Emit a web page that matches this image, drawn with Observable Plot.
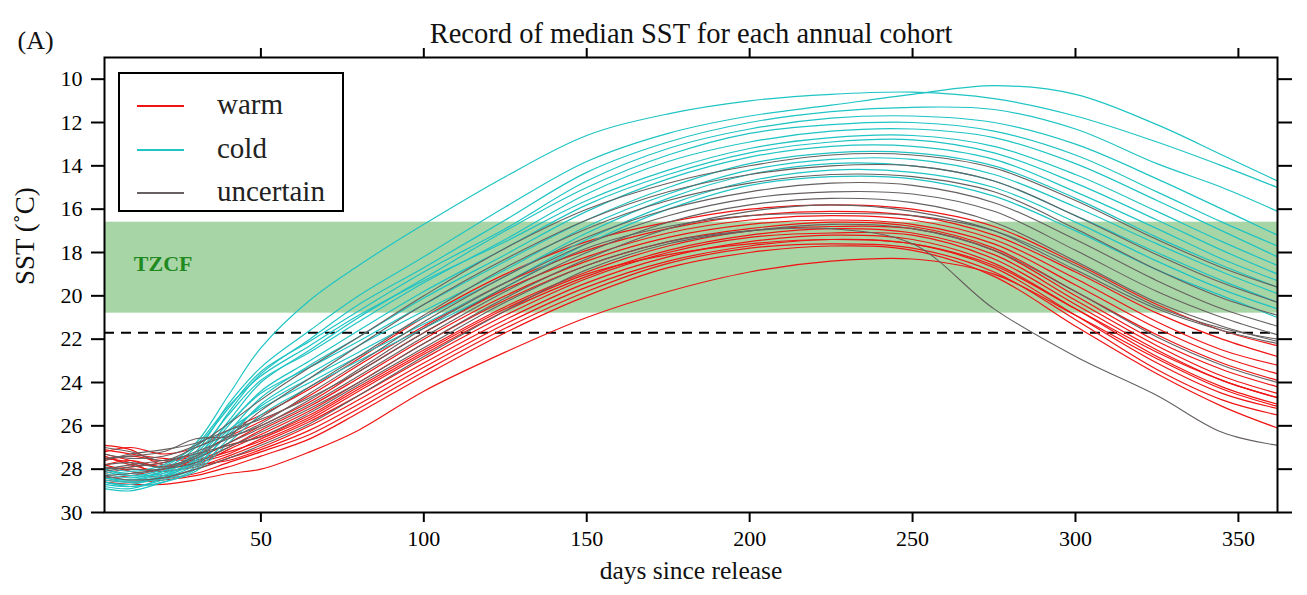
<!DOCTYPE html>
<html>
<head>
<meta charset="utf-8">
<script src="https://cdn.jsdelivr.net/npm/d3@7"></script>
<script src="https://cdn.jsdelivr.net/npm/@observablehq/plot@0.6"></script>
<style>
  html, body { margin: 0; padding: 0; background: white; }
  #wrap { position: relative; width: 1307px; height: 595px; }
  #legend { position: absolute; left: 118px; top: 72px; width: 222px; height: 136px;
    border: 2px solid black; background: white; font-family: 'Liberation Serif', 'Times New Roman', serif; font-size: 29px; color: #222; }
  .row { position: absolute; left: 0; width: 100%; height: 30px; }
  .sw { position: absolute; left: 17px; top: 14px; width: 47px; height: 2px; }
  .lb { position: absolute; left: 97px; top: -2px; line-height: 30px; }
</style>
</head>
<body>
<div id="wrap"></div>
<script>
// sample days
const days = [2, 10, 20, 30, 40, 50, 65, 80, 100, 125, 150, 175, 200, 225, 250, 275, 300, 325, 345, 362];

// warm cohorts (SST in °C at each sample day)
const warm = [
  [27.2, 27.0, 27.3, 27.0, 26.2, 25.5, 24.3, 22.9, 21.0, 19.0, 17.5, 16.6, 16.0, 15.8, 16.0, 16.8, 18.5, 20.4, 21.6, 22.3],
  [27.6, 27.4, 27.6, 27.3, 26.5, 25.8, 24.6, 23.2, 21.4, 19.4, 17.9, 16.9, 16.3, 16.1, 16.3, 17.2, 18.9, 20.8, 22.0, 22.8],
  [26.9, 27.1, 27.8, 27.5, 26.8, 26.0, 24.9, 23.5, 21.7, 19.7, 18.2, 17.1, 16.5, 16.3, 16.5, 17.4, 19.2, 21.2, 22.5, 23.2],
  [27.8, 27.6, 27.9, 27.6, 27.0, 26.2, 25.1, 23.8, 22.0, 20.0, 18.4, 17.3, 16.7, 16.5, 16.7, 17.6, 19.5, 21.5, 22.8, 23.6],
  [27.4, 27.8, 28.1, 27.8, 27.1, 26.4, 25.3, 24.0, 22.2, 20.2, 18.6, 17.5, 16.9, 16.6, 16.8, 17.8, 19.8, 21.8, 23.1, 23.9],
  [28.0, 27.9, 27.7, 27.4, 26.9, 26.5, 25.5, 24.2, 22.5, 20.5, 18.9, 17.7, 17.0, 16.8, 16.9, 17.9, 20.0, 22.1, 23.4, 24.2],
  [27.1, 27.3, 27.5, 27.6, 27.2, 26.7, 25.7, 24.4, 22.7, 20.7, 19.1, 17.9, 17.2, 16.9, 17.1, 18.1, 20.2, 22.3, 23.7, 24.5],
  [28.2, 28.0, 28.1, 27.9, 27.4, 26.8, 25.8, 24.6, 22.9, 20.9, 19.2, 18.0, 17.3, 17.1, 17.2, 18.3, 20.4, 22.5, 23.9, 24.7],
  [27.5, 27.7, 28.3, 28.0, 27.5, 27.0, 26.0, 24.8, 23.1, 21.1, 19.4, 18.2, 17.5, 17.2, 17.4, 18.5, 20.6, 22.8, 24.2, 25.0],
  [28.4, 28.3, 28.0, 27.8, 27.6, 27.1, 26.2, 25.0, 23.3, 21.3, 19.6, 18.4, 17.7, 17.4, 17.6, 18.7, 20.9, 23.1, 24.5, 25.2],
  [27.8, 28.1, 28.4, 28.2, 27.7, 27.2, 26.4, 25.2, 23.5, 21.5, 19.8, 18.5, 17.8, 17.6, 17.8, 18.9, 21.1, 23.4, 24.8, 25.5],
  [28.5, 28.6, 28.5, 28.3, 27.9, 27.4, 26.6, 25.4, 23.7, 21.7, 20.0, 18.7, 18.0, 17.7, 17.9, 19.1, 21.4, 23.6, 25.1, 26.1],
  [28.6, 28.7, 28.7, 28.5, 28.2, 28.0, 27.2, 26.2, 24.4, 22.6, 21.0, 19.8, 18.9, 18.4, 18.3, 19.0, 20.9, 22.9, 24.3, 25.1],
  [27.3, 27.6, 27.9, 27.7, 27.3, 26.6, 25.6, 24.3, 22.6, 20.6, 19.0, 18.1, 17.6, 17.4, 17.6, 18.6, 20.6, 22.6, 23.9, 24.7]
];

// cold cohorts
const cold = [
  [28.0, 28.2, 27.9, 26.8, 24.6, 22.4, 20.2, 18.6, 16.7, 14.5, 12.6, 11.6, 11.0, 10.7, 10.6, 10.9, 11.7, 12.9, 14.0, 15.0],
  [28.4, 28.5, 28.1, 27.2, 25.0, 23.3, 21.6, 20.0, 18.2, 15.9, 13.8, 12.5, 11.7, 11.2, 10.7, 10.3, 10.7, 12.1, 13.5, 14.7],
  [28.6, 28.7, 28.3, 27.5, 25.4, 23.6, 22.0, 20.4, 18.7, 16.5, 14.3, 12.9, 12.0, 11.5, 11.3, 11.4, 12.3, 13.9, 15.0, 16.1],
  [28.1, 28.3, 28.0, 27.0, 25.2, 23.5, 22.1, 20.7, 18.9, 16.9, 14.7, 13.2, 12.3, 11.8, 11.7, 12.0, 13.0, 14.6, 16.0, 17.2],
  [28.8, 28.9, 28.4, 27.6, 25.8, 24.0, 22.5, 21.0, 19.2, 17.0, 15.0, 13.5, 12.5, 12.1, 12.0, 12.4, 13.5, 15.2, 16.6, 17.7],
  [28.3, 28.5, 28.2, 27.3, 25.5, 23.9, 22.6, 21.2, 19.4, 17.4, 15.3, 13.8, 12.9, 12.4, 12.3, 12.7, 13.9, 15.6, 17.0, 18.2],
  [27.9, 28.1, 27.8, 26.9, 25.1, 23.7, 22.3, 20.9, 19.3, 17.5, 15.6, 14.2, 13.2, 12.7, 12.6, 13.1, 14.4, 16.1, 17.5, 18.6],
  [28.5, 28.6, 28.3, 27.7, 26.0, 24.4, 23.0, 21.6, 19.8, 17.8, 15.8, 14.4, 13.4, 12.9, 12.8, 13.4, 14.8, 16.5, 17.9, 19.0],
  [28.7, 28.8, 28.5, 27.9, 26.3, 24.7, 23.2, 21.9, 20.1, 18.1, 16.1, 14.6, 13.6, 13.1, 13.1, 13.7, 15.2, 16.9, 18.3, 19.3],
  [28.2, 28.4, 28.1, 27.4, 25.9, 24.5, 23.3, 22.1, 20.4, 18.4, 16.5, 15.0, 13.9, 13.4, 13.4, 14.0, 15.5, 17.3, 18.6, 19.6],
  [28.9, 29.0, 28.6, 28.0, 26.6, 25.0, 23.6, 22.3, 20.7, 18.8, 16.8, 15.3, 14.2, 13.7, 13.7, 14.4, 15.9, 17.6, 18.9, 19.9],
  [28.4, 28.6, 28.4, 27.8, 26.4, 25.1, 23.8, 22.6, 21.0, 19.1, 17.1, 15.5, 14.4, 13.9, 14.0, 14.7, 16.3, 18.0, 19.3, 20.3],
  [28.0, 28.3, 28.2, 27.6, 26.2, 25.2, 24.0, 22.8, 21.3, 19.4, 17.4, 15.8, 14.7, 14.2, 14.3, 15.0, 16.6, 18.4, 19.7, 20.6],
  [28.6, 28.8, 28.6, 28.1, 26.8, 25.5, 24.2, 23.0, 21.5, 19.6, 17.6, 16.0, 14.9, 14.5, 14.6, 15.4, 17.0, 18.8, 20.0, 21.0]
];

// uncertain cohorts
const uncertain = [
  [27.3, 27.5, 27.4, 26.9, 25.9, 24.8, 23.3, 21.9, 20.0, 17.8, 16.0, 14.8, 14.0, 13.5, 13.5, 14.1, 15.6, 17.4, 18.7, 19.6],
  [27.8, 27.7, 27.9, 27.4, 26.5, 25.3, 23.8, 22.3, 20.4, 18.3, 16.5, 15.2, 14.4, 14.0, 14.0, 14.7, 16.3, 18.1, 19.4, 20.3],
  [27.0, 27.2, 27.6, 27.0, 26.4, 25.6, 24.2, 22.8, 20.9, 18.7, 16.9, 15.6, 14.8, 14.4, 14.5, 15.2, 16.9, 18.8, 20.1, 20.9],
  [28.1, 27.9, 27.7, 27.2, 26.6, 25.9, 24.5, 23.1, 21.2, 19.1, 17.3, 16.0, 15.2, 14.8, 14.9, 15.7, 17.4, 19.3, 20.6, 21.4],
  [27.5, 27.4, 27.2, 26.6, 26.5, 26.0, 24.8, 23.4, 21.5, 19.4, 17.6, 16.3, 15.5, 15.2, 15.3, 16.1, 17.9, 19.8, 21.0, 21.8],
  [27.9, 28.0, 28.0, 27.5, 26.8, 26.1, 25.0, 23.7, 21.9, 19.8, 18.0, 16.6, 15.8, 15.5, 15.7, 16.6, 18.4, 20.3, 21.4, 22.1],
  [28.3, 28.2, 28.0, 27.7, 27.0, 26.3, 25.2, 24.0, 22.2, 20.1, 18.3, 16.9, 16.1, 15.8, 16.1, 17.0, 18.8, 20.6, 21.6, 22.2],
  [28.0, 27.8, 27.6, 27.3, 26.9, 26.5, 25.4, 24.1, 22.4, 20.3, 18.6, 17.5, 17.0, 16.9, 17.6, 20.6, 22.8, 24.6, 26.3, 26.9],
  [27.6, 27.3, 27.1, 26.8, 26.2, 25.7, 24.7, 23.5, 21.7, 19.6, 17.8, 16.8, 16.3, 16.2, 16.3, 17.0, 18.6, 20.5, 21.5, 22.0],
  [28.3, 28.5, 28.4, 28.0, 27.5, 26.9, 25.9, 24.6, 22.8, 20.7, 18.8, 17.6, 17.0, 16.7, 16.9, 17.9, 19.8, 21.9, 23.2, 24.0]
];

const tzcfBand = [{lo: 16.6, hi: 20.8}];
const threshold = [21.7];
const xTicks = [50, 100, 150, 200, 250, 300, 350];
const yTicks = [10, 12, 14, 16, 18, 20, 22, 24, 26, 28, 30];
const groups = ["warm", "cold", "uncertain"];
const colors = {warm: "#f01414", cold: "#1fc4c4", uncertain: "#666060"};

function rowsOf(arr, g) {
  const out = [];
  arr.forEach((s, i) => s.forEach((v, j) => out.push({day: days[j], sst: v, id: g + i, group: g})));
  return out;
}
const warmRows = rowsOf(warm, "warm");
const coldRows = rowsOf(cold, "cold");
const uncRows = rowsOf(uncertain, "uncertain");

const serif = "'Liberation Serif', 'Times New Roman', serif";

const chart = Plot.plot({
  width: 1307, height: 595,
  marginLeft: 104, marginRight: 30, marginTop: 57, marginBottom: 83,
  style: {fontFamily: serif, background: "white", color: "black"},
  x: {domain: [2, 362]},
  y: {domain: [9, 30], reverse: true},
  marks: [
    Plot.rect(tzcfBand, {y1: "lo", y2: "hi", fill: "#a8d5a6"}),
    Plot.text(["TZCF"], {x: 11, y: 18.55, textAnchor: "start", fill: "#1f8a1f", fontWeight: "bold", fontSize: 22}),
    Plot.ruleY(threshold, {stroke: "black", strokeWidth: 2, strokeDasharray: "10,7"}),
    Plot.line(warmRows, {x: "day", y: "sst", z: "id", stroke: colors.warm, strokeWidth: 1.2, curve: "catmull-rom"}),
    Plot.line(coldRows, {x: "day", y: "sst", z: "id", stroke: colors.cold, strokeWidth: 1.2, curve: "catmull-rom"}),
    Plot.line(uncRows, {x: "day", y: "sst", z: "id", stroke: colors.uncertain, strokeWidth: 1.1, curve: "catmull-rom"}),
    Plot.axisY({ticks: yTicks, tickSize: 13, tickPadding: 9, fontSize: 22, strokeWidth: 2, label: null}),
    Plot.axisY({anchor: "right", ticks: yTicks, tickSize: 14, tickFormat: () => "", strokeWidth: 2, label: null}),
    Plot.axisX({ticks: xTicks, tickSize: 10, tickPadding: 8, fontSize: 22, strokeWidth: 2, label: null}),
    Plot.axisX({anchor: "top", ticks: xTicks, tickSize: 10, tickFormat: () => "", strokeWidth: 2, label: null}),
    Plot.frame({stroke: "black", strokeWidth: 2}),
    Plot.text(["Record of median SST for each annual cohort"], {frameAnchor: "top", dy: -35, fontSize: 28.5, fill: "#111"}),
    Plot.text(["(A)"], {frameAnchor: "top-left", dx: -87, dy: -27, textAnchor: "start", fontSize: 26, fill: "#111"}),
    Plot.text(["days since release"], {frameAnchor: "bottom", dy: 66, fontSize: 25.5, fill: "#111"}),
    Plot.text(["SST (˚C)"], {frameAnchor: "left", dx: -79, rotate: -90, fontSize: 27, fill: "#111"})
  ]
});

const wrap = document.getElementById("wrap");
wrap.appendChild(chart);

const legend = document.createElement("div");
legend.id = "legend";
groups.forEach((g, i) => {
  const row = document.createElement("div");
  row.className = "row";
  row.style.top = (17 + i * 43.5) + "px";
  const sw = document.createElement("div");
  sw.className = "sw";
  sw.style.background = colors[g];
  const lb = document.createElement("div");
  lb.className = "lb";
  lb.textContent = g;
  row.appendChild(sw); row.appendChild(lb);
  legend.appendChild(row);
});
wrap.appendChild(legend);
</script>
</body>
</html>
